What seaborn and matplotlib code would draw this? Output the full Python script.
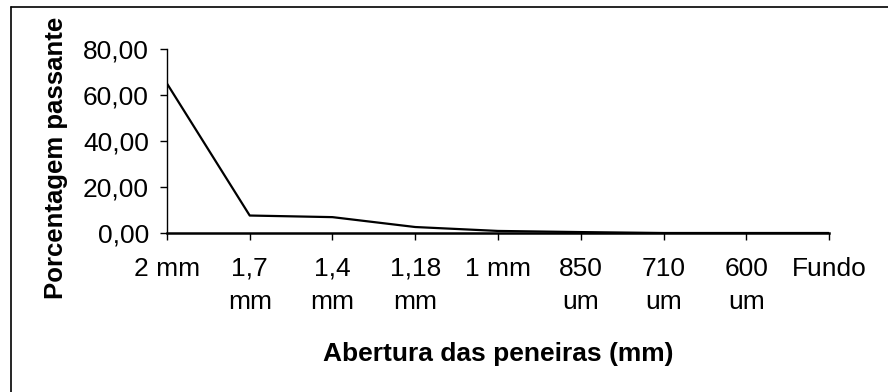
import matplotlib
matplotlib.use("Agg")
import matplotlib.pyplot as plt
import seaborn as sns
import pandas as pd
from matplotlib.lines import Line2D

# Sieve openings and the percentage passing each one
aberturas = ["2 mm", "1,7\nmm", "1,4\nmm", "1,18\nmm", "1 mm",
             "850\num", "710\num", "600\num", "Fundo"]
passante = [65.0, 7.6, 6.9, 2.6, 0.9, 0.4, 0.0, 0.0, 0.0]
y_ticks = [0, 20, 40, 60, 80]

sns.set_style("ticks")
plt.rcParams["font.family"] = ["Liberation Sans", "DejaVu Sans"]
plt.rcParams["text.color"] = "black"
plt.rcParams["axes.labelcolor"] = "black"

df = pd.DataFrame({"abertura": aberturas, "passante": passante})

fig = plt.figure(figsize=(8.88, 3.92), dpi=100)
ax = fig.add_axes([0.188, 0.4056, 0.9336 - 0.188, 0.875 - 0.4056])

sns.lineplot(data=df, x="abertura", y="passante", sort=False,
             color="black", linewidth=1.6, ax=ax)

ax.set_xlim(0, len(aberturas) - 1)
ax.set_ylim(0, 80)
ax.set_yticks(y_ticks)
ax.set_yticklabels([f"{v:.2f}".replace(".", ",") for v in y_ticks])
ax.set_xticks(range(len(aberturas)))
ax.set_xticklabels(aberturas, linespacing=1.5)

for s in ["top", "right"]:
    ax.spines[s].set_visible(False)
ax.spines["left"].set_linewidth(1.0)
ax.spines["bottom"].set_linewidth(1.8)
ax.spines["left"].set_color("black")
ax.spines["bottom"].set_color("black")

ax.tick_params(axis="both", colors="black", labelsize=19, length=5, width=1.0,
               direction="out")
ax.tick_params(axis="x", pad=12)
ax.tick_params(axis="y", pad=8)

ax.set_xlabel("Abertura das peneiras (mm)", fontsize=19, fontweight="bold",
              color="black")
ax.set_ylabel("Porcentagem passante", fontsize=18.5, fontweight="bold",
              color="black")
ax.xaxis.set_label_coords(0.5, -0.59)
ax.yaxis.set_label_coords(-0.15, 0.41)

# Chart frame: top and left edges
fig.add_artist(Line2D([11 / 888, 1.0], [1 - 7 / 392, 1 - 7 / 392],
                      transform=fig.transFigure, color="black", linewidth=1.2))
fig.add_artist(Line2D([11 / 888, 11 / 888], [0.0, 1 - 7 / 392],
                      transform=fig.transFigure, color="black", linewidth=1.2))

fig.savefig("out.png", dpi=100)
